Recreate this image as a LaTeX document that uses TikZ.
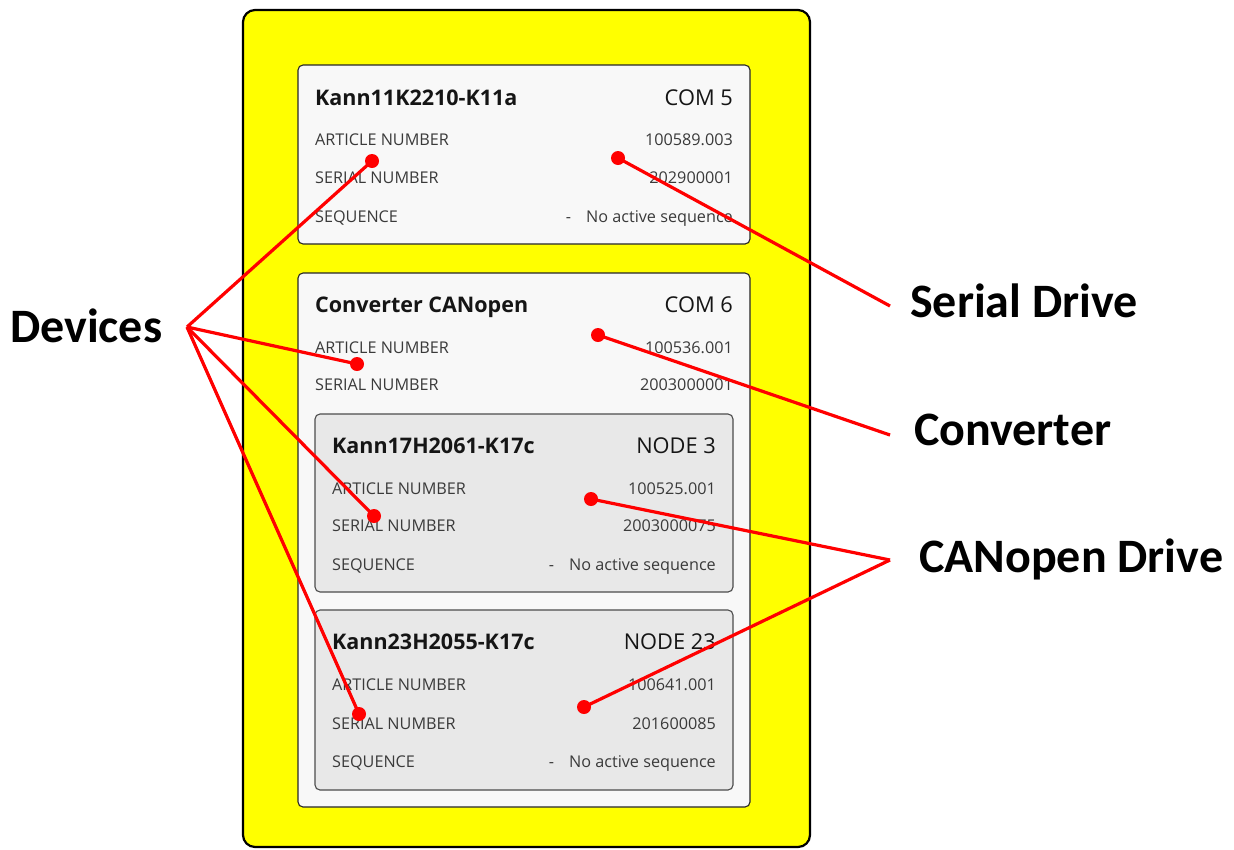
\documentclass[tikz,border=0pt]{standalone}
\usepackage{fontspec}
\setmainfont{Open Sans}
\newfontfamily\lblfont{Carlito}
\definecolor{boxfill}{HTML}{F8F8F8}
\definecolor{innerfill}{HTML}{E8E8E8}
\definecolor{txt}{HTML}{3A3A3A}
\definecolor{ttl}{HTML}{151515}
\definecolor{redline}{HTML}{FF0000}
\definecolor{bgyellow}{HTML}{FFFF00}
\begin{document}
\begin{tikzpicture}[x=1pt,y=-1pt,
  outerbox/.style={draw=black,line width=2.2pt,fill=bgyellow,rounded corners=12pt},
  devbox/.style={draw=black!85,line width=1.1pt,fill=boxfill,rounded corners=5pt},
  subbox/.style={draw=black!70,line width=1.1pt,fill=innerfill,rounded corners=5pt},
  ttltext/.style={font=\fontsize{21.5}{25}\selectfont\bfseries,text=ttl,inner sep=0pt},
  idtext/.style={font=\fontsize{21.8}{25}\selectfont,text=ttl,inner sep=0pt},
  rowtext/.style={font=\fontsize{16.2}{19}\selectfont,text=txt,inner sep=0pt},
  lbl/.style={font=\lblfont\fontsize{48}{54}\selectfont\bfseries,text=black,inner sep=0pt},
  pointer/.style={draw=redline,line width=3.2pt},
  dot/.style={circle,fill=redline,minimum size=14pt,inner sep=0pt}]
\useasboundingbox (0,0) rectangle (1234,849);
\fill[white] (0,0) rectangle (1234,849);
\draw[outerbox] (243,10) rectangle (810,847);
% box 1
\draw[devbox] (298,65) rectangle (750,244);
\node[ttltext,anchor=base west] (t1) at (315,105) {Kann11K2210-K11a};
\node[idtext,anchor=base east] (c1) at (733,105) {COM 5};
\node[rowtext,anchor=base west] (a1) at (315,145) {ARTICLE NUMBER};
\node[rowtext,anchor=base east] (av1) at (733,145) {100589.003};
\node[rowtext,anchor=base west] (s1) at (315,183) {SERIAL NUMBER};
\node[rowtext,anchor=base east] (sv1) at (733,183) {202900001};
\node[rowtext,anchor=base west] (q1) at (315,222) {SEQUENCE};
\node[rowtext,anchor=base east] (qv1) at (733,222) {-\hspace{15pt}No active sequence};
% box 2
\draw[devbox] (298,273) rectangle (750,807);
\node[ttltext,anchor=base west] (t2) at (315,312) {Converter CANopen};
\node[idtext,anchor=base east] (c2) at (733,312) {COM 6};
\node[rowtext,anchor=base west] (a2) at (315,353) {ARTICLE NUMBER};
\node[rowtext,anchor=base east] (av2) at (733,353) {100536.001};
\node[rowtext,anchor=base west] (s2) at (315,390) {SERIAL NUMBER};
\node[rowtext,anchor=base east] (sv2) at (733,390) {2003000001};
% box 3
\draw[subbox] (315,414) rectangle (733,592);
\node[ttltext,anchor=base west] (t3) at (332,453) {Kann17H2061-K17c};
\node[idtext,anchor=base east] (c3) at (716,453) {NODE 3};
\node[rowtext,anchor=base west] (a3) at (332,494) {ARTICLE NUMBER};
\node[rowtext,anchor=base east] (av3) at (716,494) {100525.001};
\node[rowtext,anchor=base west] (s3) at (332,531) {SERIAL NUMBER};
\node[rowtext,anchor=base east] (sv3) at (716,531) {2003000075};
\node[rowtext,anchor=base west] (q3) at (332,570) {SEQUENCE};
\node[rowtext,anchor=base east] (qv3) at (716,570) {-\hspace{15pt}No active sequence};
% box 4
\draw[subbox] (315,610) rectangle (733,790);
\node[ttltext,anchor=base west] (t4) at (332,649) {Kann23H2055-K17c};
\node[idtext,anchor=base east] (c4) at (716,649) {NODE 23};
\node[rowtext,anchor=base west] (a4) at (332,690) {ARTICLE NUMBER};
\node[rowtext,anchor=base east] (av4) at (716,690) {100641.001};
\node[rowtext,anchor=base west] (s4) at (332,729) {SERIAL NUMBER};
\node[rowtext,anchor=base east] (sv4) at (716,729) {201600085};
\node[rowtext,anchor=base west] (q4) at (332,767) {SEQUENCE};
\node[rowtext,anchor=base east] (qv4) at (716,767) {-\hspace{15pt}No active sequence};
% labels
\node[lbl,anchor=base west] (ldev) at (10,342) {Devices};
\node[lbl,anchor=base west] (lser) at (910,317) {Serial Drive};
\node[lbl,anchor=base west] (lconv) at (914,445) {Converter};
\node[lbl,anchor=base west] (lcan) at (919,572) {CANopen Drive};
% pointer coordinates
\coordinate (pdev) at (187,327);
\coordinate (pser) at (890,306);
\coordinate (pconv) at (890,435);
\coordinate (pcan) at (890,560);
\node[dot] (d1) at (372,161) {};
\node[dot] (d2) at (357,364) {};
\node[dot] (d3) at (374,516) {};
\node[dot] (d4) at (359,714) {};
\node[dot] (d5) at (618,158) {};
\node[dot] (d6) at (598,335) {};
\node[dot] (d7) at (591,499) {};
\node[dot] (d8) at (584,707) {};
\draw[pointer] (pdev) -- (d1.center);
\draw[pointer] (pdev) -- (d2.center);
\draw[pointer] (pdev) -- (d3.center);
\draw[pointer] (pdev) -- (d4.center);
\draw[pointer] (pser) -- (d5.center);
\draw[pointer] (pconv) -- (d6.center);
\draw[pointer] (pcan) -- (d7.center);
\draw[pointer] (pcan) -- (d8.center);
\end{tikzpicture}
\end{document}
